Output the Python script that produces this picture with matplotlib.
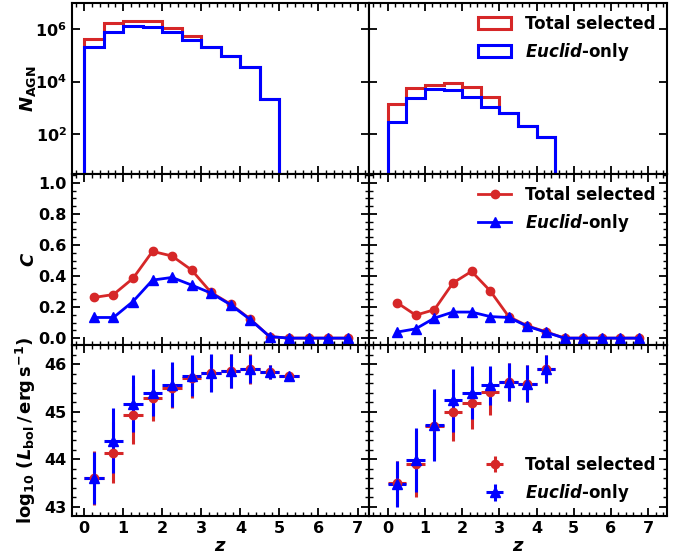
import matplotlib
matplotlib.use("Agg")
import matplotlib.pyplot as plt
import numpy as np
from matplotlib.ticker import AutoMinorLocator, FixedLocator, NullLocator

plt.rcParams.update({
    "font.family": "DejaVu Sans",
    "font.weight": "bold",
    "font.size": 11,
    "axes.labelweight": "bold",
    "axes.linewidth": 1.5,
    "mathtext.fontset": "custom",
    "mathtext.rm": "DejaVu Sans:bold",
    "mathtext.bf": "DejaVu Sans:bold",
    "mathtext.it": "DejaVu Sans:italic:bold",
    "mathtext.sf": "DejaVu Sans:bold",
    "xtick.direction": "in",
    "ytick.direction": "in",
    "xtick.top": True,
    "ytick.right": True,
    "xtick.major.size": 6,
    "ytick.major.size": 6,
    "xtick.minor.size": 3,
    "ytick.minor.size": 3,
    "xtick.major.width": 1.3,
    "ytick.major.width": 1.3,
    "xtick.minor.width": 1.0,
    "ytick.minor.width": 1.0,
})

RED = "#d62728"
BLUE = "blue"

# redshift bins (dz = 0.5)
z_mid = np.arange(0.25, 7.0, 0.5)

# number counts per bin
n_tot_L = [4.2e5, 1.7e6, 2.15e6, 2.0e6, 1.07e6, 5.3e5, 2.1e5, 9.8e4, 3.6e4, 2.1e3]
n_euc_L = [2.1e5, 7.5e5, 1.3e6, 1.2e6, 7.5e5, 4.0e5, 2.1e5, 9.8e4, 3.6e4, 2.1e3]
n_tot_R = [1.4e3, 5.9e3, 7.3e3, 9.1e3, 6.2e3, 2.5e3, 630, 210, 76]
n_euc_R = [290, 2.3e3, 5.2e3, 4.6e3, 2.5e3, 1.1e3, 630, 210, 76]

# completeness
c_tot_L = [0.262, 0.281, 0.385, 0.559, 0.529, 0.439, 0.294, 0.219, 0.123, 0.01, 0, 0, 0, 0]
c_euc_L = [0.133, 0.133, 0.236, 0.374, 0.391, 0.342, 0.29, 0.215, 0.12, 0.01, 0, 0, 0, 0]
c_tot_R = [0.228, 0.148, 0.183, 0.355, 0.43, 0.305, 0.139, 0.079, 0.041, 0, 0, 0, 0, 0]
c_euc_R = [0.039, 0.06, 0.129, 0.168, 0.168, 0.139, 0.133, 0.077, 0.038, 0, 0, 0, 0, 0]

# mean log10 Lbol and scatter
l_tot_L = [43.6, 44.14, 44.94, 45.29, 45.51, 45.71, 45.82, 45.86, 45.9, 45.84, 45.76]
e_tot_L = [0.57, 0.65, 0.61, 0.49, 0.44, 0.42, 0.38, 0.35, 0.31, 0.15, 0.04]
l_euc_L = [43.6, 44.39, 45.17, 45.4, 45.57, 45.76, 45.82, 45.86, 45.9, 45.84, 45.76]
e_euc_L = [0.55, 0.69, 0.6, 0.49, 0.47, 0.43, 0.4, 0.36, 0.3, 0.15, 0.04]
l_tot_R = [43.49, 43.9, 44.7, 44.99, 45.19, 45.41, 45.62, 45.59, 45.9]
e_tot_R = [0.47, 0.69, 0.7, 0.61, 0.56, 0.48, 0.4, 0.39, 0.29]
l_euc_R = [43.48, 43.98, 44.72, 45.24, 45.4, 45.56, 45.62, 45.59, 45.9]
e_euc_R = [0.48, 0.67, 0.75, 0.67, 0.56, 0.41, 0.4, 0.39, 0.29]

fig, axes = plt.subplots(3, 2, figsize=(6.86, 5.58), dpi=100)
fig.subplots_adjust(left=0.1045, right=0.972, top=0.9946, bottom=0.0758,
                    hspace=0, wspace=0)

cols = [
    (n_tot_L, n_euc_L, c_tot_L, c_euc_L, l_tot_L, e_tot_L, l_euc_L, e_euc_L, (-0.32, 7.3)),
    (n_tot_R, n_euc_R, c_tot_R, c_euc_R, l_tot_R, e_tot_R, l_euc_R, e_euc_R, (-0.5, 7.5)),
]

for j, (nt, ne, ct, ce, lt, et, le, ee, xlim) in enumerate(cols):
    ax1, ax2, ax3 = axes[:, j]

    # counts
    edges = np.arange(len(nt) + 1) * 0.5
    ax1.hist(z_mid[:len(nt)], bins=edges, weights=nt, histtype="step",
             color=RED, lw=2.2, log=True, label="Total selected")
    ax1.hist(z_mid[:len(ne)], bins=edges, weights=ne, histtype="step",
             color=BLUE, lw=2.2, log=True, label=r"$Euclid$-only")
    ax1.set_ylim(3, 1e7)
    ax1.yaxis.set_major_locator(FixedLocator([1e2, 1e4, 1e6]))
    ax1.yaxis.set_minor_locator(NullLocator())

    # completeness
    ax2.plot(z_mid, ct, "-o", color=RED, lw=2, ms=6, label="Total selected")
    ax2.plot(z_mid, ce, "-^", color=BLUE, lw=2, ms=6.5, label=r"$Euclid$-only")
    ax2.set_ylim(-0.043, 1.058)
    ax2.yaxis.set_major_locator(plt.MultipleLocator(0.2))

    # luminosity
    ax3.errorbar(z_mid[:len(lt)], lt, xerr=0.25, yerr=et, fmt="o", color=RED,
                 ms=6, elinewidth=2.2, capsize=0, label="Total selected")
    ax3.errorbar(z_mid[:len(le)], le, xerr=0.25, yerr=ee, fmt="^", color=BLUE,
                 ms=6.5, elinewidth=2.2, capsize=0, label=r"$Euclid$-only")
    ax3.set_ylim(42.81, 46.41)
    ax3.set_xlabel(r"$z$", fontsize=13, labelpad=1)

    for ax in (ax1, ax2, ax3):
        ax.set_xlim(*xlim)
        ax.xaxis.set_major_locator(plt.MultipleLocator(1))
        ax.xaxis.set_minor_locator(AutoMinorLocator())
        if ax is not ax1:
            ax.yaxis.set_minor_locator(AutoMinorLocator())
        ax.tick_params(which="both", top=True, right=True, labelsize=11.5)
        if ax is not ax3:
            ax.tick_params(labelbottom=False)
        if j == 1:
            ax.tick_params(labelleft=False)

    if j == 1:
        ax1.legend(loc="upper right", frameon=False, fontsize=12,
                   handlelength=2.0, borderaxespad=0.3)
        ax2.legend(loc="upper right", frameon=False, fontsize=12,
                   handlelength=2.0, borderaxespad=0.3)
        ax3.legend(loc="lower right", frameon=False, fontsize=12,
                   handlelength=2.0, borderaxespad=0.3)

axes[0, 0].set_ylabel(r"$N_{\rm AGN}$", fontsize=13, labelpad=-2)
axes[1, 0].set_ylabel(r"$C$", fontsize=13, labelpad=-2)
axes[2, 0].set_ylabel(r"$\log_{10}\,(L_{\rm bol}\,/\,{\rm erg\,s^{-1}})$",
                      fontsize=13, labelpad=-2)
fig.align_ylabels(axes[:, 0])

fig.savefig("out.png", dpi=100)
